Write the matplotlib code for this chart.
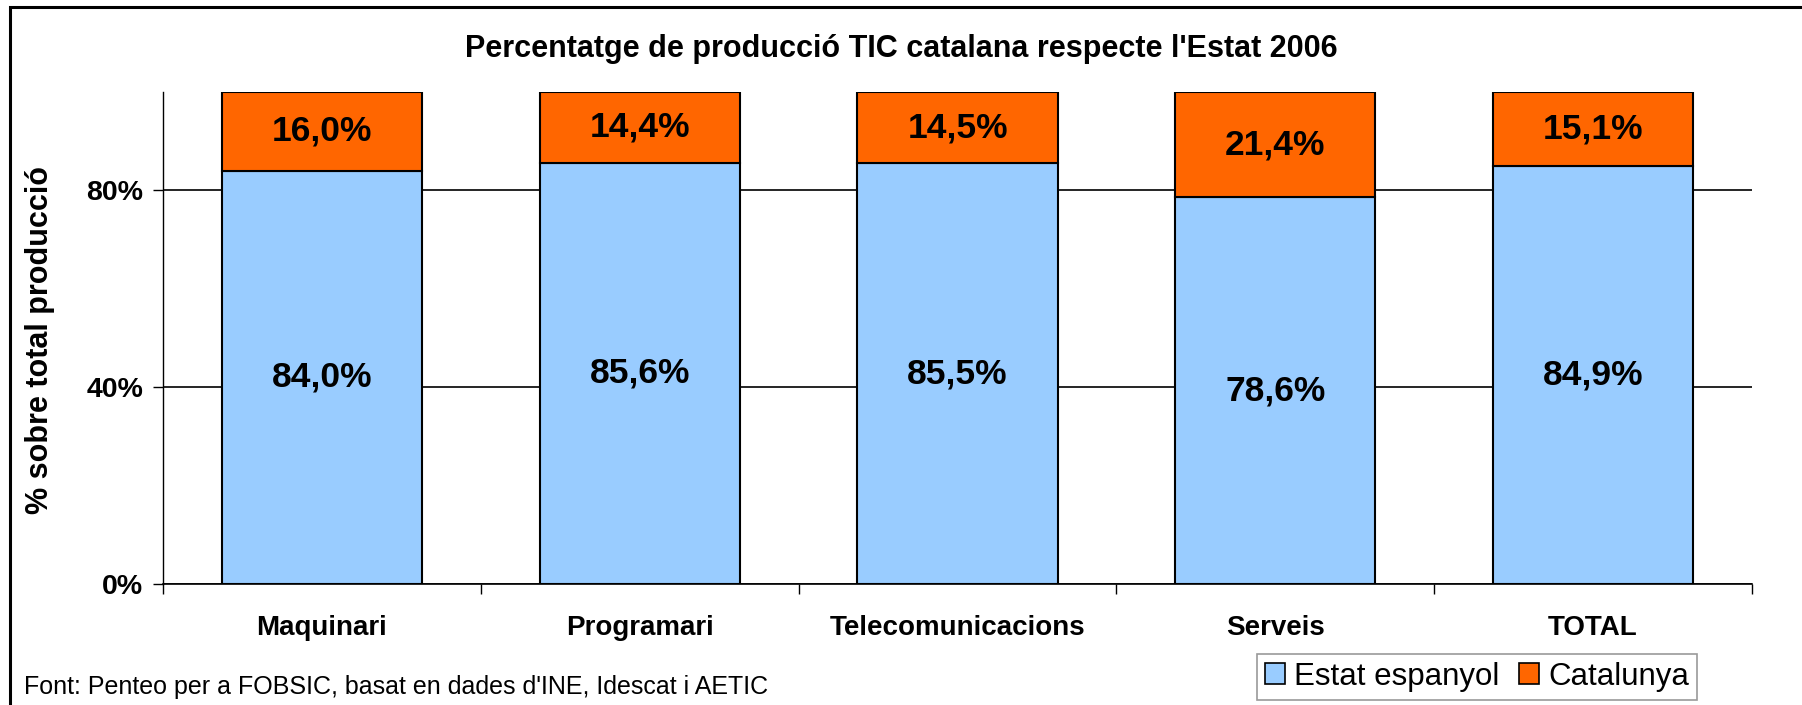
import matplotlib
matplotlib.use("Agg")
import matplotlib.pyplot as plt
from matplotlib.patches import Rectangle, Patch
import numpy as np

# dades
categories = ["Maquinari", "Programari", "Telecomunicacions", "Serveis", "TOTAL"]
estat = [84.0, 85.6, 85.5, 78.6, 84.9]
catalunya = [16.0, 14.4, 14.5, 21.4, 15.1]
yticks = [0, 40, 80]
ytick_labels = ["0%", "40%", "80%"]

titol = "Percentatge de producció TIC catalana respecte l'Estat 2006"
font_text = "Font: Penteo per a FOBSIC, basat en dades d'INE, Idescat i AETIC"

blau = "#99CCFF"
taronja = "#FF6600"

plt.rcParams["font.family"] = ["Liberation Sans", "DejaVu Sans"]

W, H = 1802, 705
fig = plt.figure(figsize=(W / 100, H / 100), dpi=100)
fig.patch.set_facecolor("white")

# eixos: posicio mesurada en pixels
ax = fig.add_axes([163 / W, 1 - 584 / H, (1752 - 163) / W, (584 - 92) / H])

x = np.arange(len(categories))
bw = 0.63
ax.bar(x, estat, width=bw, color=blau, edgecolor="black", linewidth=1.5, zorder=3)
ax.bar(x, catalunya, width=bw, bottom=estat, color=taronja, edgecolor="black",
       linewidth=1.5, zorder=3)

# etiquetes dins les barres
for i in range(len(categories)):
    ax.text(x[i], estat[i] / 2, f"{estat[i]:.1f}%".replace(".", ","),
            ha="center", va="center", fontsize=25.5, fontweight="bold", zorder=4)
    ax.text(x[i], estat[i] + catalunya[i] / 2, f"{catalunya[i]:.1f}%".replace(".", ","),
            ha="center", va="center", fontsize=25.5, fontweight="bold", zorder=4)

ax.set_xlim(-0.5, len(categories) - 0.5)
ax.set_ylim(0, 100)

ax.set_yticks(yticks, ytick_labels, fontsize=20.5, fontweight="bold")
ax.tick_params(axis="y", length=7.2, width=1, pad=7, direction="out")
ax.yaxis.grid(True, color="black", linewidth=1.2)
ax.set_axisbelow(True)

ax.set_xticks(x, categories, fontsize=20, fontweight="bold")
ax.tick_params(axis="x", which="major", length=0, pad=22)
ax.set_xticks(np.arange(-0.5, len(categories), 1), minor=True)
ax.tick_params(axis="x", which="minor", length=7.2, width=1, direction="out")

for s in ["top", "right"]:
    ax.spines[s].set_visible(False)
ax.spines["left"].set_linewidth(1)
ax.spines["bottom"].set_linewidth(1.2)

fig.text(40 / W, 1 - 340 / H, "% sobre total producció", rotation=90,
         ha="center", va="center", fontsize=22, fontweight="bold")

fig.text(0.5, 1 - 49 / H, titol, ha="center", va="center",
         fontsize=22, fontweight="bold")

fig.text(24 / W, 1 - 687 / H, font_text, ha="left", va="center", fontsize=18)

handles = [Patch(facecolor=blau, edgecolor="black", linewidth=1.2),
           Patch(facecolor=taronja, edgecolor="black", linewidth=1.2)]
leg = fig.legend(handles, ["Estat espanyol", "Catalunya"], loc="upper left",
                 bbox_to_anchor=(1257 / W, 1 - 654 / H), ncol=2, fontsize=22.5,
                 frameon=True, fancybox=False, handlelength=0.65, handleheight=0.65,
                 handletextpad=0.3, columnspacing=0.6, borderpad=0.25,
                 borderaxespad=0)
leg.get_frame().set_edgecolor("#808080")
leg.get_frame().set_linewidth(1.2)

# marc exterior
fig.patches.append(Rectangle((10 / W, -0.1), 1.2, 1.1 - 7 / H,
                             transform=fig.transFigure, fill=False,
                             edgecolor="black", linewidth=2.2, clip_on=False))

fig.savefig("out.png", dpi=100)
